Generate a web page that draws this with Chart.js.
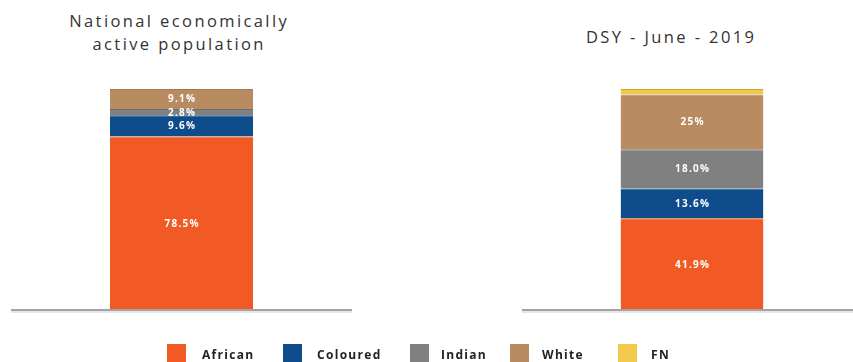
<!DOCTYPE html>
<html>
<head>
<meta charset="utf-8">
<script src="https://cdn.jsdelivr.net/npm/chart.js@4/dist/chart.umd.min.js"></script>
<style>
  html, body { margin: 0; padding: 0; width: 853px; height: 362px; overflow: hidden; background: #fff; }
  body { position: relative; font-family: "Open Sans", sans-serif; }
  .title { position: absolute; text-align: center; color: #333; font-size: 16.5px; line-height: 23px; letter-spacing: 2.4px; white-space: nowrap; padding-left: 2.4px; box-sizing: border-box; }
  .cv { position: absolute; top: 0; }
  #legend { position: absolute; left: 0; top: 0; width: 853px; height: 362px; pointer-events: none; }
  .sw { position: absolute; width: 19px; height: 19px; }
  .lt { position: absolute; font-weight: 700; font-size: 12px; letter-spacing: 1.3px; color: #222; line-height: 16px; }
</style>
</head>
<body>
<div class="title" id="t1" style="left:28px; width:300px; top:9px;"></div>
<div class="title" id="t2" style="left:520px; width:300px; top:25px;"></div>
<div class="cv" style="left:11px; width:341px; height:362px;"><canvas id="c1"></canvas></div>
<div class="cv" style="left:522px; width:340px; height:362px;"><canvas id="c2"></canvas></div>
<div id="legend"></div>
<script>
// ---- data ----
const seriesNames = ["African", "Coloured", "Indian", "White", "FN"];
const seriesColors = ["#F15A24", "#0E4C8B", "#808080", "#B98B60", "#F2C94C"];
const seriesEdge = ["#D9501F", "#0A3F75", "#6E6E6E", "#A27852", "#C9A232"];
const nationalValues = [78.5, 9.6, 2.8, 9.1, 0];
const nationalLabels = ["78.5%", "9.6%", "2.8%", "9.1%", ""];
const dsyValues = [41.9, 13.6, 18.0, 25, 2.5];
const dsyLabels = ["41.9%", "13.6%", "18.0%", "25%", ""];
const chartTitles = [["National economically", "active population"], ["DSY - June - 2019"]];
const categories = [""];

document.getElementById('t1').innerHTML = chartTitles[0].join('<br>');
document.getElementById('t2').innerHTML = chartTitles[1].join('<br>');

const labelPlugin = {
  id: 'segLabels',
  afterDatasetsDraw(chart, args, opts) {
    const ctx = chart.ctx;
    ctx.save();
    ctx.fillStyle = '#ffffff';
    ctx.font = 'bold 10px "Open Sans"';
    try { ctx.letterSpacing = '1.2px'; } catch (e) {}
    ctx.textAlign = 'center';
    ctx.textBaseline = 'middle';
    chart.data.datasets.forEach((ds, di) => {
      const meta = chart.getDatasetMeta(di);
      meta.data.forEach((el, i) => {
        const txt = opts.labels[di];
        if (!txt) return;
        const y = (el.y + el.base) / 2;
        ctx.fillText(txt, el.x + 0.6, y + 0.5);
      });
    });
    ctx.restore();
  }
};

const baselinePlugin = {
  id: 'baseline',
  afterDraw(chart) {
    const ctx = chart.ctx;
    const y = chart.scales.y.getPixelForValue(0);
    const a = chart.chartArea;
    ctx.save();
    ctx.fillStyle = '#e6e6e6';
    ctx.fillRect(a.left, y + 1, a.right - a.left, 2);
    ctx.fillStyle = '#a3a3a3';
    ctx.fillRect(a.left, y - 1, a.right - a.left, 2);
    ctx.restore();
  }
};

function makeChart(id, values, labels, ymax, padTop) {
  const datasets = seriesNames.map((n, i) => ({
    label: n,
    data: [values[i]],
    backgroundColor: seriesColors[i],
    borderColor: seriesEdge[i],
    borderWidth: { top: 1, bottom: 0, left: 0, right: 0 },
    borderSkipped: false,
    barPercentage: 0.42,
    categoryPercentage: 1.0
  }));
  return new Chart(document.getElementById(id), {
    type: 'bar',
    data: { labels: categories, datasets },
    options: {
      responsive: true,
      maintainAspectRatio: false,
      animation: false,
      layout: { padding: { top: padTop, bottom: 362 - 310, left: 0, right: 0 } },
      plugins: { legend: { display: false }, tooltip: { enabled: false }, segLabels: { labels } },
      scales: {
        x: { stacked: true, display: false },
        y: { stacked: true, display: false, min: 0, max: ymax }
      }
    },
    plugins: [labelPlugin, baselinePlugin]
  });
}

makeChart('c1', nationalValues, nationalLabels, 100, 89);
makeChart('c2', dsyValues, dsyLabels, 101, 89);

// ---- legend ----
const legendX = [167, 283, 410, 510, 618];
const legendTextX = [202, 317, 441, 542, 651];
const lg = document.getElementById('legend');
seriesNames.forEach((n, i) => {
  const s = document.createElement('div');
  s.className = 'sw';
  s.style.left = legendX[i] + 'px';
  s.style.top = '344px';
  s.style.background = seriesColors[i];
  lg.appendChild(s);
  const t = document.createElement('div');
  t.className = 'lt';
  t.style.left = legendTextX[i] + 'px';
  t.style.top = '347px';
  t.textContent = n;
  lg.appendChild(t);
});
</script>
</body>
</html>
